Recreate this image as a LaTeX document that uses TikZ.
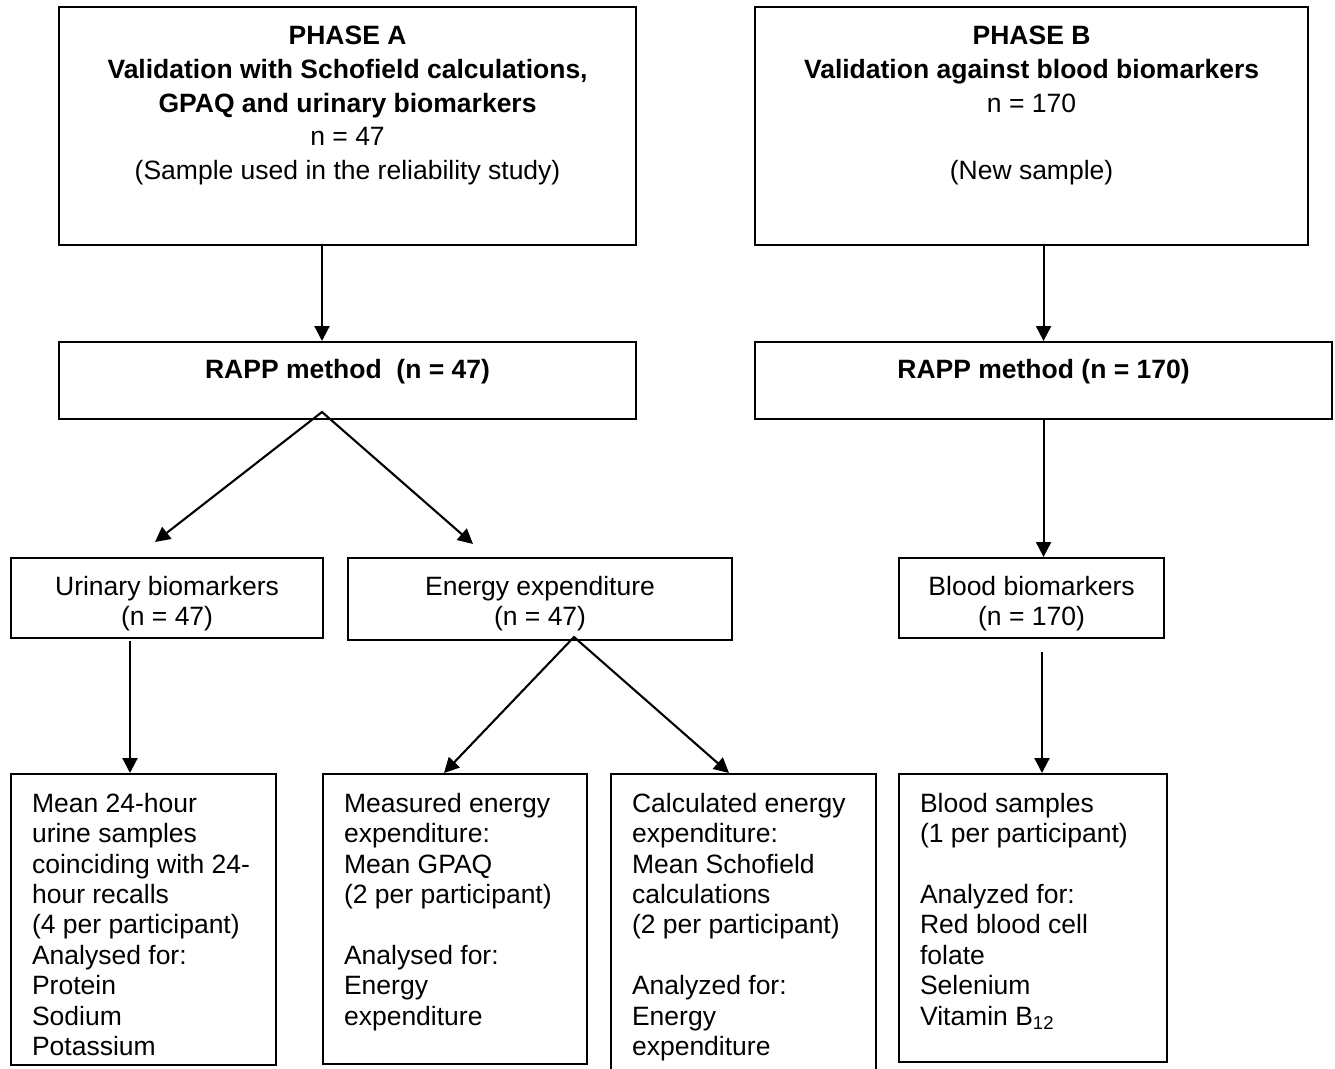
\documentclass[tikz,border=0pt]{standalone}
\usepackage{fontspec}
\setmainfont{Liberation Sans}
\usepackage{tikz}
\usetikzlibrary{arrows.meta}
\tikzset{
  >={Triangle[length=15pt, width=15pt]},
  box/.style     = {draw, line width=2.1pt, anchor=north west, inner sep=0pt},
  phase/.style   = {box, inner ysep=19pt, font=\fontsize{26.5}{33.8}\selectfont},
  method/.style  = {box, inner ysep=17pt, font=\fontsize{26.5}{30.4}\selectfont\bfseries},
  group/.style   = {box, inner ysep=18pt, font=\fontsize{26.5}{30.4}\selectfont},
  detail/.style  = {box, inner xsep=21pt, inner ysep=19pt,
                    font=\fontsize{26.5}{30.4}\selectfont},
  arrow/.style   = {->, line width=2.1pt},
  fork/.style    = {<->, line width=2.1pt},
}

\begin{document}
\begin{tikzpicture}[x=1pt, y=-1pt]
  \useasboundingbox (0,0) rectangle (1335,1068);
  \clip (0,0) rectangle (1335,1068);

  % phase headers
  \node[phase] (phaseA) at (58,6) {\parbox[t][200pt][t]{577pt}{\centering
      \textbf{PHASE A}\\ \textbf{Validation with Schofield calculations,}\\
      \textbf{GPAQ and urinary biomarkers}\\ n = 47\\
      (Sample used in the reliability study)}};
  \node[phase] (phaseB) at (754,6) {\parbox[t][200pt][t]{553pt}{\centering
      \textbf{PHASE B}\\ \textbf{Validation against blood biomarkers}\\
      n = 170\\ ~\\ (New sample)}};

  % RAPP method
  \node[method] (rappA) at (58,341)  {\parbox[t][43pt][t]{577pt}{\centering
      RAPP method~~(n = 47)}};
  \node[method] (rappB) at (754,341) {\parbox[t][43pt][t]{577pt}{\centering
      RAPP method (n = 170)}};

  % reference measures
  \node[group] (urin)     at (10,557)  {\parbox[t][44pt][t]{312pt}{\centering
      Urinary biomarkers\\ (n = 47)}};
  \node[group] (energy)   at (347,557) {\parbox[t][46pt][t]{384pt}{\centering
      Energy expenditure\\ (n = 47)}};
  \node[group] (bloodbio) at (898,557) {\parbox[t][44pt][t]{265pt}{\centering
      Blood biomarkers\\ (n = 170)}};

  % samples and analyses
  \node[detail] (mean24) at (10,773) {\parbox[t][253pt][t]{223pt}{\raggedright
      Mean 24-hour\\ urine samples\\ coinciding with 24-\\ hour recalls\\
      (4 per participant)\\ Analysed for:\\ Protein\\ Sodium\\ Potassium}};
  \node[detail] (measured) at (322,773) {\parbox[t][252pt][t]{222pt}{\raggedright
      Measured energy\\ expenditure:\\ Mean GPAQ\\ (2 per participant)\\ ~\\
      Analysed for:\\ Energy\\ expenditure}};
  \node[detail] (calc) at (610,773) {\parbox[t][282pt][t]{223pt}{\raggedright
      Calculated energy\\ expenditure:\\ Mean Schofield\\ calculations\\
      (2 per participant)\\ ~\\ Analyzed for:\\ Energy\\ expenditure}};
  \node[detail] (bloodsam) at (898,773) {\parbox[t][250pt][t]{226pt}{\raggedright
      Blood samples\\ (1 per participant)\\ ~\\ Analyzed for:\\
      Red blood cell\\ folate\\ Selenium\\ Vitamin B\textsubscript{12}}};

  % connectors
  \coordinate (tapA)  at (322,244);
  \coordinate (forkA) at (322,412);
  \coordinate (tipU)  at (155,542);
  \coordinate (tipE)  at (473,544);
  \coordinate (tapU)  at (130,641);
  \coordinate (forkE) at (574,637);
  \coordinate (tipM)  at (444,773);
  \coordinate (tipC)  at (729,773);
  \coordinate (tapBl) at (1042,652);

  \draw[arrow] (tapA) -- (tapA |- rappA.north);
  \draw[arrow] (rappB.north |- phaseB.south) -- (rappB.north);
  \draw[fork]  (tipU) -- (forkA) -- (tipE);
  \draw[arrow] (rappB.south) -- (rappB.south |- bloodbio.north);
  \draw[arrow] (tapU) -- (tapU |- mean24.north);
  \draw[fork]  (tipM) -- (forkE) -- (tipC);
  \draw[arrow] (tapBl) -- (tapBl |- bloodsam.north);
\end{tikzpicture}
\end{document}
